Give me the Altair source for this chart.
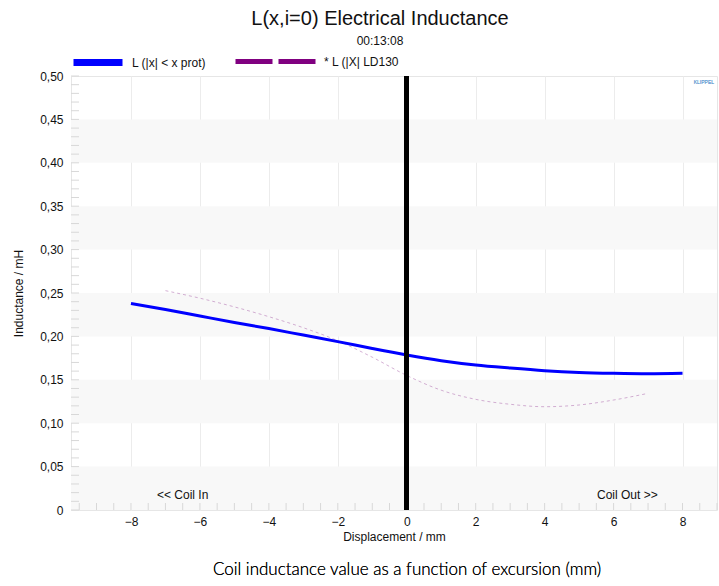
import altair as alt
import pandas as pd
import numpy as np

title_text = "L(x,i=0) Electrical Inductance"
subtitle_text = "00:13:08"
series_names = ["L (|x| < x prot)", "* L (|X| LD130"]

blue_x = [-8, -7, -6, -5, -4, -3, -2, -1, 0, 1, 2, 3, 4, 5, 6, 7, 8]
blue_y = [0.238, 0.231, 0.2235, 0.216, 0.209, 0.2015, 0.194, 0.186, 0.1785,
          0.172, 0.167, 0.1635, 0.1605, 0.1585, 0.1575, 0.157, 0.1575]

dash_x = [-7, -6, -5, -4, -3, -2, -1, 0, 1, 2, 3, 4, 5, 6, 7]
dash_y = [0.2527, 0.244, 0.234, 0.2227, 0.210, 0.195, 0.176, 0.155, 0.138,
          0.1275, 0.1218, 0.119, 0.121, 0.1267, 0.1344]

band_lo = [0.0, 0.10, 0.20, 0.30, 0.40]
band_hi = [0.05, 0.15, 0.25, 0.35, 0.45]

annot_text = ["<< Coil In", "Coil Out >>"]
annot_x = [-6.5, 6.4]
annot_y = [0.017, 0.017]

caption_text = "Coil inductance value as a function of excursion (mm)"
logo_text = "KLIPPEL"

x_ticks = [-8, -6, -4, -2, 0, 2, 4, 6, 8]
y_ticks = [0, 0.05, 0.10, 0.15, 0.20, 0.25, 0.30, 0.35, 0.40, 0.45, 0.50]
x_minor = [v / 2 for v in range(-19, 19)]
y_minor = [v / 100 for v in range(0, 51)]

W, H = 646, 434
FONT = "Liberation Sans"

blue_df = pd.DataFrame({"x": blue_x, "y": blue_y, "s": series_names[0]})
dash_df = pd.DataFrame({"x": dash_x, "y": dash_y, "s": series_names[1]})
band_df = pd.DataFrame({"lo": band_lo, "hi": band_hi})
annot_df = pd.DataFrame({"t": annot_text, "x": annot_x, "y": annot_y})
xminor_df = pd.DataFrame({"v": x_minor})
yminor_df = pd.DataFrame({"v": y_minor})

xscale = alt.Scale(domain=[-9.74, 9], nice=False, zero=False)
yscale = alt.Scale(domain=[0, 0.5], nice=False)

xaxis = alt.Axis(values=x_ticks, title="Displacement / mm", grid=True,
                 gridColor="#ececec", ticks=False, domain=False,
                 labelPadding=6, titlePadding=4,
                 labelFont=FONT, labelFontSize=12, labelColor="#111",
                 titleFont=FONT, titleFontSize=12, titleFontWeight="normal", titleColor="#111")
yaxis = alt.Axis(values=y_ticks, title="Inductance / mH", grid=False,
                 ticks=False, domain=False, labelPadding=8, titlePadding=14,
                 labelFont=FONT, labelFontSize=12, labelColor="#111",
                 titleFont=FONT, titleFontSize=12, titleFontWeight="normal", titleColor="#111",
                 labelExpr="datum.value == 0 ? '0' : replace(format(datum.value, '.2f'), '.', ',')")

bands = alt.Chart(band_df).mark_rect(color="#f8f8f8").encode(
    x=alt.value(0), x2=alt.value(W),
    y=alt.Y("lo:Q", scale=yscale, axis=yaxis), y2="hi:Q")

ymin_ticks = alt.Chart(yminor_df).mark_rule(color="#d8d8d8", strokeWidth=1).encode(
    y=alt.Y("v:Q", scale=yscale), x=alt.value(0), x2=alt.value(8))
xmin_ticks = alt.Chart(xminor_df).mark_rule(color="#d8d8d8", strokeWidth=1).encode(
    x=alt.X("v:Q", scale=xscale), y=alt.value(H), y2=alt.value(H - 7))

blue = alt.Chart(blue_df).mark_line(strokeWidth=3, interpolate="monotone").encode(
    x=alt.X("x:Q", scale=xscale, axis=xaxis),
    y=alt.Y("y:Q", scale=yscale),
    color=alt.Color("s:N", scale=alt.Scale(domain=[series_names[0]], range=["#0000ff"]),
                    legend=alt.Legend(title=None, orient="none", legendX=-1, legendY=-41.5,
                                      symbolType="stroke", symbolSize=2401,
                                      symbolStrokeWidth=7, labelOffset=6,
                                      labelFont=FONT, labelFontSize=12, labelColor="#111")))

dash = alt.Chart(dash_df).mark_line(strokeWidth=1, color="#b070b0", opacity=0.55,
                                    strokeDash=[3, 3], interpolate="monotone").encode(
    x=alt.X("x:Q", scale=xscale), y=alt.Y("y:Q", scale=yscale))

dash_legend = alt.Chart(dash_df).mark_line(color="#800080").encode(
    x=alt.X("x:Q", scale=xscale), y=alt.Y("y:Q", scale=yscale),
    strokeDash=alt.StrokeDash("s:N", scale=alt.Scale(domain=[series_names[1]], range=[[37, 6]]),
                              legend=alt.Legend(title=None, orient="none", legendX=162, legendY=-57.5,
                                                symbolType="stroke", symbolSize=6561,
                                                symbolStrokeWidth=5, symbolStrokeColor="#800080",
                                                labelOffset=5,
                                                labelFont=FONT, labelFontSize=12, labelColor="#111"))
).transform_filter("false")

zero_rule = alt.Chart(blue_df).mark_rule(color="black", strokeWidth=4).encode(
    x=alt.datum(0, scale=xscale))

annots = alt.Chart(annot_df).mark_text(font=FONT, fontSize=12, color="#111").encode(
    x=alt.X("x:Q", scale=xscale), y=alt.Y("y:Q", scale=yscale), text="t:N")

caption = alt.Chart(annot_df).mark_text(font="Lato", fontSize=17, fontWeight=300, color="#000",
                                        align="center").encode(
    x=alt.value(336), y=alt.value(494), text=alt.value(caption_text))

logo = alt.Chart(annot_df).mark_text(font=FONT, fontSize=5, color="#6a9fd4",
                                     align="right").encode(
    x=alt.value(W - 3), y=alt.value(6), text=alt.value(logo_text))

chart = alt.layer(bands, ymin_ticks, xmin_ticks, dash, blue, dash_legend, zero_rule,
                  annots, caption, logo).properties(
    width=W, height=H,
    background="white",
    autosize=alt.AutoSizeParams(type="none"),
    padding={"left": 71, "top": 76, "right": 2, "bottom": 76},
    title=alt.Title(title_text, subtitle=subtitle_text, font=FONT, fontSize=20,
                    fontWeight="normal", color="#111", subtitleFont=FONT,
                    subtitleFontSize=12, subtitleColor="#111", anchor="middle",
                    frame="group", dx=-14, offset=-28, subtitlePadding=7)
).configure_view(stroke="#e6e6e6")

chart.save("out.html", embed_options={"renderer": "svg", "actions": False})
